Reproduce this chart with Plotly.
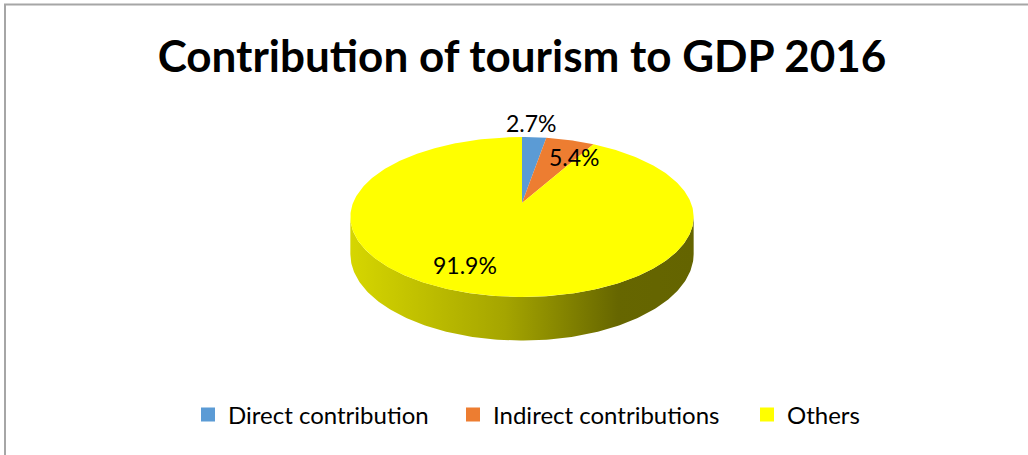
import numpy as np
import plotly.graph_objects as go

# ---- data ----
categories = ["Direct contribution", "Indirect contributions", "Others"]
shares = [2.7, 5.4, 91.9]          # percent of GDP
colors = ["#5B9BD5", "#ED7D31", "#FFFF00"]
title_text = "Contribution of tourism to GDP 2016"

# ---- 3D pie geometry (pixel space) ----
W, H = 1028, 455
CX, CY = 522, 203        # apex of the slices
RX, RY = 169, 77.5       # radii of the disk before perspective
PERSP = 0.175            # perspective strength (near side larger)
DEPTH = 36               # thickness of the pie
LABEL_R = [1.26, 0.70, 0.73]   # radial placement of value labels
LABEL_SHIFT = [-5, 17, -22]    # horizontal nudge of value labels (px)
LEGEND_X = [188, 453, 747]     # left edge of each legend entry (px)
LEGEND_Y = 415
FONT = "Lato"


def project(phi, k=1.0, drop=0.0):
    """Map an angle (clockwise from 12 o'clock) on the disk to the screen."""
    X = k * np.sin(phi)
    Z = -k * np.cos(phi)
    w = 1 - PERSP * Z
    return CX + RX * X / w, CY + (RY * Z + drop) / w


fracs = np.array(shares) / sum(shares)
edges = np.concatenate([[0], np.cumsum(fracs)]) * 2 * np.pi

fig = go.Figure()

# visible outer wall (front half of the disk)
phi_l = np.pi - np.arccos(PERSP)
phi_r = np.pi + np.arccos(PERSP)
arc = np.linspace(phi_l, phi_r, 200)
tx, ty = project(arc)
bx, by = project(arc[::-1], drop=DEPTH)
fig.add_trace(go.Scatter(
    x=np.concatenate([tx, bx]), y=np.concatenate([ty, by]),
    mode="lines", line=dict(width=0), fill="toself",
    fillgradient=dict(type="horizontal",
                      colorscale=[[0, "rgb(214,214,0)"], [0.45, "rgb(165,165,0)"],
                                  [0.78, "rgb(102,102,0)"], [1, "rgb(100,100,0)"]]),
    hoverinfo="skip", showlegend=False))

# top faces of the slices
for i, name in enumerate(categories):
    a = np.linspace(edges[i], edges[i + 1], max(4, int(400 * fracs[i])))
    ax_, ay_ = project(a)
    fig.add_trace(go.Scatter(
        x=np.concatenate([[CX], ax_, [CX]]), y=np.concatenate([[CY], ay_, [CY]]),
        mode="lines", line=dict(width=0, color=colors[i]),
        fill="toself", fillcolor=colors[i], name=name,
        hoverinfo="name", showlegend=False))

# value labels
for i, v in enumerate(shares):
    mid = (edges[i] + edges[i + 1]) / 2
    lx, ly = project(mid, k=LABEL_R[i])
    fig.add_annotation(x=lx, y=ly, text=f"{v:.1f}%", showarrow=False,
                       xshift=LABEL_SHIFT[i],
                       font=dict(family=FONT, size=23, color="black"))

# legend entries, one legend box per category so each can be placed freely
legend_layout = {}
for i, (name, c) in enumerate(zip(categories, colors)):
    key = "legend" if i == 0 else f"legend{i + 1}"
    fig.add_trace(go.Scatter(x=[None], y=[None], mode="markers", name=name,
                             legend=key,
                             marker=dict(symbol="square", size=14, color=c)))
    legend_layout[key] = dict(
        orientation="h", x=LEGEND_X[i] / W, xanchor="left",
        y=1 - LEGEND_Y / H, yanchor="middle", bgcolor="rgba(0,0,0,0)",
        font=dict(family=FONT, size=24, color="black"),
        itemclick=False, itemdoubleclick=False)

fig.update_layout(
    width=W, height=H,
    margin=dict(l=0, r=0, t=0, b=0),
    paper_bgcolor="white", plot_bgcolor="white",
    xaxis=dict(range=[0, W], visible=False, fixedrange=True),
    yaxis=dict(range=[H, 0], visible=False, fixedrange=True),
    title=dict(text=f"<b>{title_text}</b>", x=522 / W, xanchor="center",
               y=1 - 57 / H, yanchor="middle",
               font=dict(family=FONT, size=44, color="black")),
    shapes=[dict(type="rect", xref="paper", yref="paper",
                 x0=5 / W, x1=1.05, y0=-0.05, y1=1 - 4.5 / H,
                 line=dict(color="#A6A6A6", width=2))],
    **legend_layout,
)

fig.write_html("out.html")
